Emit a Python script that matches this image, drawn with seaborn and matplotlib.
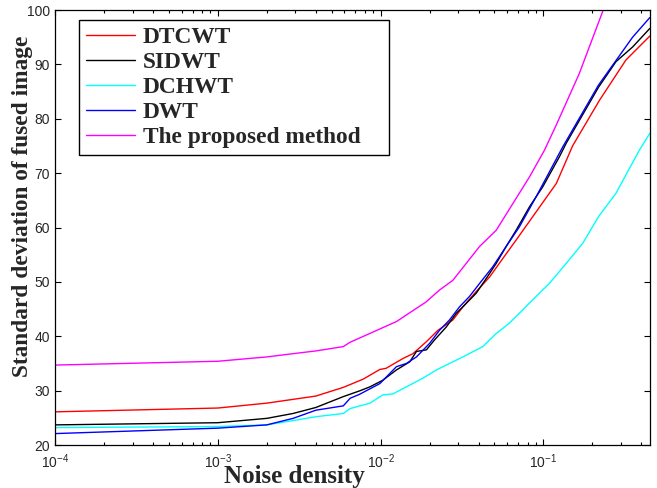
import matplotlib
matplotlib.use("Agg")
import matplotlib.pyplot as plt
import seaborn as sns
import pandas as pd

# Values (noise density -> standard deviation)
dtcwt_x = [1e-4, 0.001, 0.002, 0.004, 0.0059, 0.0078, 0.0099, 0.0108, 0.0137, 0.0158,
           0.0191, 0.0225, 0.0278, 0.032, 0.0386, 0.0467, 0.0563, 0.068, 0.086, 0.12,
           0.151, 0.221, 0.321, 0.45]
dtcwt_y = [26.1, 26.8, 27.7, 29.0, 30.6, 32.1, 33.9, 34.1, 35.9, 36.8,
           39.0, 41.1, 43.0, 45.4, 48.2, 50.9, 54.3, 57.7, 62.0, 68.1,
           75.0, 83.4, 90.8, 95.2]

sidwt_x = [1e-4, 0.001, 0.002, 0.0029, 0.004, 0.0059, 0.0075, 0.0086, 0.0103, 0.0125,
           0.0151, 0.0166, 0.0191, 0.0214, 0.0253, 0.0291, 0.0327, 0.0386, 0.0445, 0.0513,
           0.059, 0.068, 0.0821, 0.0991, 0.1253, 0.138, 0.218, 0.279, 0.353, 0.45]
sidwt_y = [23.7, 24.1, 24.9, 25.8, 26.9, 28.9, 30.0, 30.7, 31.9, 33.8,
           35.3, 37.2, 37.5, 39.3, 41.7, 44.2, 45.7, 47.9, 50.6, 53.4,
           56.5, 59.5, 63.8, 67.5, 73.0, 75.5, 85.8, 90.5, 93.2, 96.6]

dchwt_x = [1e-4, 0.001, 0.002, 0.0029, 0.004, 0.0059, 0.0065, 0.0086, 0.0103, 0.0119,
           0.0144, 0.0182, 0.022, 0.0265, 0.032, 0.0424, 0.0513, 0.0617, 0.0744, 0.09,
           0.1087, 0.138, 0.1744, 0.218, 0.279, 0.388, 0.45]
dchwt_y = [23.2, 23.4, 23.7, 24.5, 25.2, 25.8, 26.7, 27.7, 29.2, 29.4,
           30.7, 32.3, 33.8, 35.0, 36.2, 38.1, 40.5, 42.4, 44.8, 47.3,
           49.7, 53.4, 57.1, 62.0, 66.3, 74.2, 77.3]

dwt_x = [1e-4, 0.001, 0.002, 0.0029, 0.004, 0.0059, 0.0065, 0.0074, 0.0099, 0.0125,
         0.0144, 0.0166, 0.02, 0.023, 0.0265, 0.0305, 0.0351, 0.0405, 0.0489, 0.059,
         0.0711, 0.09, 0.1313, 0.218, 0.353, 0.45]
dwt_y = [22.1, 23.1, 23.7, 24.9, 26.4, 27.2, 28.6, 29.3, 31.3, 34.4,
         35.0, 36.2, 38.7, 41.1, 43.0, 45.4, 47.3, 49.7, 52.8, 56.5,
         60.1, 65.6, 74.8, 86.2, 95.0, 98.6]

proposed_x = [1e-4, 0.001, 0.002, 0.0029, 0.004, 0.0059, 0.0065, 0.0125, 0.019, 0.023,
              0.0278, 0.0405, 0.0513, 0.0649, 0.0821, 0.1014, 0.1197, 0.166, 0.233]
proposed_y = [34.7, 35.4, 36.2, 36.8, 37.3, 38.1, 38.9, 42.7, 46.3, 48.5,
              50.3, 56.5, 59.5, 64.4, 69.3, 74.2, 78.8, 88.3, 100.0]

series = [
    ("DTCWT", dtcwt_x, dtcwt_y, "#ff0000"),
    ("SIDWT", sidwt_x, sidwt_y, "#000000"),
    ("DCHWT", dchwt_x, dchwt_y, "#00ffff"),
    ("DWT", dwt_x, dwt_y, "#0000ff"),
    ("The proposed method", proposed_x, proposed_y, "#ff00ff"),
]

sns.set_style("ticks")
plt.rcParams["font.family"] = ["Liberation Sans", "DejaVu Sans"]
plt.rcParams["mathtext.fontset"] = "custom"
plt.rcParams["mathtext.rm"] = "Liberation Sans"
plt.rcParams["xtick.direction"] = "in"
plt.rcParams["ytick.direction"] = "in"

fig = plt.figure(figsize=(6.57, 4.88), dpi=100)
ax = fig.add_axes([0.0837, 0.0881, 0.9053, 0.8914])

for name, xs, ys, color in series:
    df = pd.DataFrame({"x": xs, "y": ys})
    sns.lineplot(data=df, x="x", y="y", ax=ax, color=color, linewidth=1.0,
                 label=name, estimator=None, sort=True)

ax.set_xscale("log")
ax.set_xlim(1e-4, 0.45)
ax.set_ylim(20, 100)
ax.set_yticks(range(20, 101, 10))
ax.tick_params(axis="both", which="both", top=True, right=True, labelsize=10,
               width=0.8, color="black")
ax.tick_params(which="major", length=4)
ax.tick_params(which="minor", length=2.5)
ax.tick_params(axis="x", which="major", pad=5)
for sp in ax.spines.values():
    sp.set_color("black")
    sp.set_linewidth(0.9)

ax.set_xlabel("Noise density", fontfamily="Liberation Serif", fontweight="bold",
              fontsize=18)
ax.set_ylabel("Standard deviation of fused image", fontfamily="Liberation Serif",
              fontweight="bold", fontsize=16.8)
ax.xaxis.set_label_coords(0.403, -0.047)
ax.yaxis.set_label_coords(-0.037, 0.549)

leg = ax.legend(loc="upper left", bbox_to_anchor=(0.04, 0.977, 0.521, 0.0),
                mode="expand", borderaxespad=0,
                prop={"family": "Liberation Serif", "weight": "bold", "size": 16.8},
                frameon=True, fancybox=False, handlelength=2.1, handletextpad=0.35,
                labelspacing=0.15, borderpad=0.3)
leg.get_frame().set_edgecolor("black")
leg.get_frame().set_linewidth(1.0)
leg.get_frame().set_alpha(1)

fig.savefig("out.png", dpi=100)
